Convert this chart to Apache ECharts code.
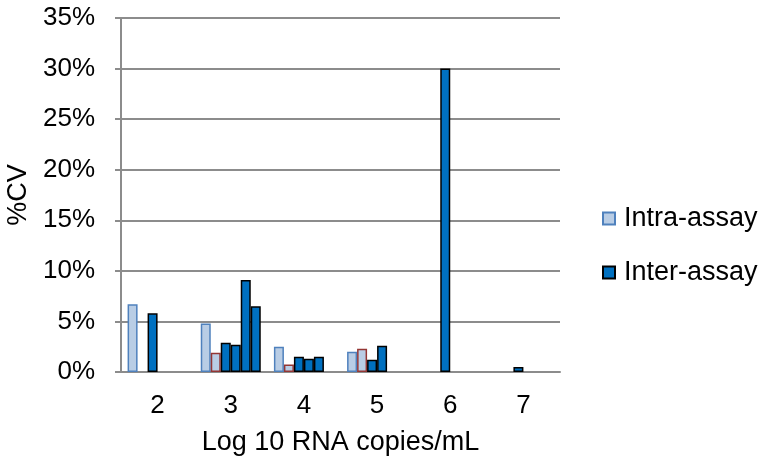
<!DOCTYPE html>
<html><head><meta charset="utf-8">
<script src="https://cdn.jsdelivr.net/npm/echarts@6/dist/echarts.min.js"></script>
<style>html,body{margin:0;padding:0;background:#fff}#c{width:767px;height:468px}</style>
</head><body><div id="c"></div>
<script>
const categories = ['2','3','4','5','6','7'];
const intraA = [6.7, 4.8, 2.5, 2.0, null, null];
const intraB = [null, 1.9, 0.75, 2.3, null, null];
const interA = [5.8, 2.9, 1.5, 1.2, 30.0, 0.5];
const interB = [null, 2.7, 1.3, 2.6, null, null];
const interC = [null, 9.1, 1.5, null, null, null];
const interD = [null, 6.5, null, null, null, null];
const yTicks = [0, 5, 10, 15, 20, 25, 30, 35];

const font = 'Liberation Sans, Arial, sans-serif';
const light = '#B9CDE5', dark = '#0070C0';
function s(name, data, fill, border, bw) {
  return { name, type: 'bar', data, barWidth: 10, barGap: '0%',
    itemStyle: { color: fill, borderColor: border, borderWidth: bw } };
}
const chart = echarts.init(document.getElementById('c'));
chart.setOption({
  animation: false,
  grid: { left: 121, right: 207, top: 18, bottom: 96, containLabel: false, outerBoundsMode: 'none' },
  legend: {
    data: [{name:'Intra-assay'}, {name:'Inter-assay'}],
    orient: 'vertical', left: 597, top: 200, itemGap: 27,
    itemWidth: 12, itemHeight: 12, icon: 'rect',
    textStyle: { fontFamily: font, fontSize: 27, color: '#000', padding: [0,0,0,4] }
  },
  xAxis: {
    type: 'category', data: categories,
    name: 'Log 10 RNA copies/mL', nameLocation: 'middle', nameGap: 57,
    nameTextStyle: { fontFamily: font, fontSize: 27, color: '#000' },
    axisLine: { lineStyle: { color: '#8c8c8c', width: 2 } },
    axisTick: { show: false },
    axisLabel: { fontFamily: font, fontSize: 26, color: '#000', margin: 21 }
  },
  yAxis: {
    type: 'value', min: 0, max: 35, interval: 5,
    name: '%CV', nameLocation: 'middle', nameGap: 87, nameRotate: 90,
    nameTextStyle: { fontFamily: font, fontSize: 27, color: '#000' },
    axisLine: { show: true, lineStyle: { color: '#8c8c8c', width: 2 } },
    axisTick: { show: true, length: 6, lineStyle: { color: '#8c8c8c', width: 2 } },
    splitLine: { lineStyle: { color: '#8c8c8c', width: 2 } },
    axisLabel: { fontFamily: font, fontSize: 26, color: '#000', margin: 26,
      formatter: v => yTicks.includes(v) ? v + '%' : '' }
  },
  series: [
    s('Intra-assay', intraA, light, '#4F81BD', 1.5),
    s('Intra-assay 2', intraB, light, '#943634', 1.5),
    s('Inter-assay', interA, dark, '#000', 1.5),
    s('Inter-assay 2', interB, dark, '#000', 1.5),
    s('Inter-assay 3', interC, dark, '#000', 1.5),
    s('Inter-assay 4', interD, dark, '#000', 1.5)
  ]
});
</script></body></html>
